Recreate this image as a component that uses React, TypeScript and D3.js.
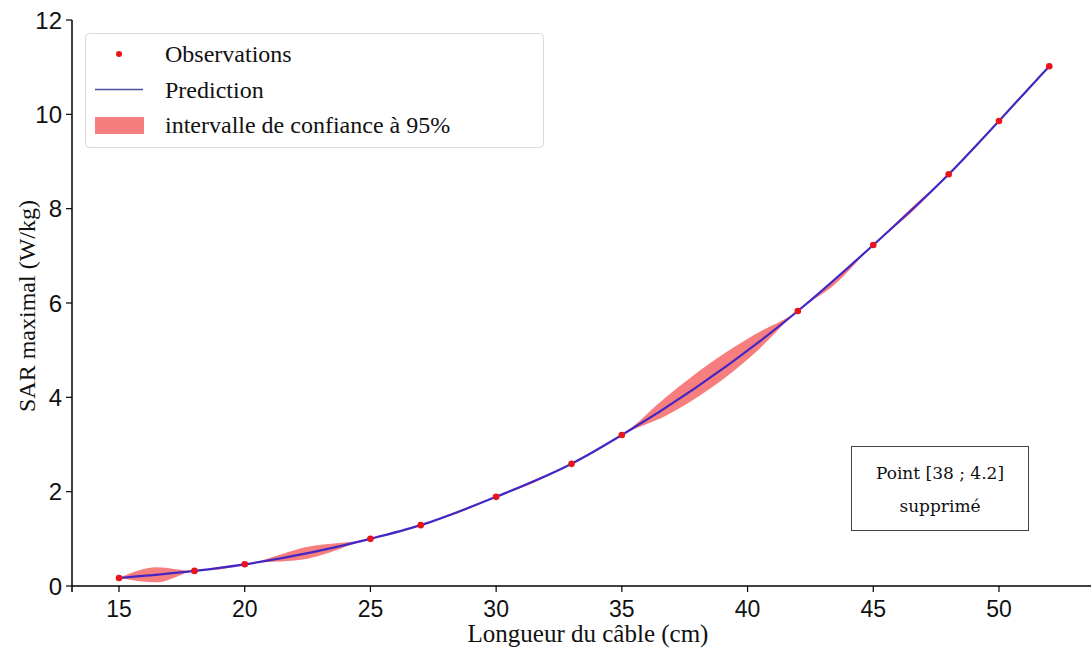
import React from "react";
import * as d3 from "d3";

// Observations (Longueur du câble en cm, SAR maximal en W/kg)
const obsX = [15, 18, 20, 25, 27, 30, 33, 35, 42, 45, 48, 50, 52];
const obsY = [0.17, 0.32, 0.46, 1.0, 1.29, 1.89, 2.59, 3.2, 5.83, 7.23, 8.73, 9.86, 11.02];

// 95% confidence band
const bandX = [15, 16.5, 18, 19, 20, 22.5, 25, 26, 27, 28.5, 30, 31.5, 33, 34, 35, 36.75, 38.5, 40.25, 42, 43.5, 45, 46.5, 48, 49, 50, 51, 52];
const bandLow = [0.17, 0.08, 0.32, 0.35, 0.46, 0.58, 1.0, 1.12, 1.29, 1.55, 1.89, 2.19, 2.59, 2.86, 3.2, 3.61, 4.18, 4.92, 5.83, 6.41, 7.23, 7.91, 8.73, 9.26, 9.86, 10.41, 11.02];
const bandHigh = [0.17, 0.4, 0.32, 0.41, 0.46, 0.83, 1.0, 1.15, 1.29, 1.59, 1.89, 2.24, 2.59, 2.9, 3.2, 4.0, 4.72, 5.32, 5.83, 6.53, 7.23, 8.01, 8.73, 9.31, 9.86, 10.46, 11.02];

const xTicks = [15, 20, 25, 30, 35, 40, 45, 50];
const yTicks = [0, 2, 4, 6, 8, 10, 12];

const legendLabels = ["Observations", "Prediction", "intervalle de confiance à 95%"];
const noteLines = ["Point [38 ; 4.2]", "supprimé"];

const W = 1091;
const H = 648;

export default function App() {
  const x = d3.scaleLinear().domain([13.13, 53.66]).range([72, 1091]);
  const y = d3.scaleLinear().domain([0, 12]).range([586, 20]);

  const obs = obsX.map((v, i) => [v, obsY[i]] as [number, number]);
  const band = bandX.map((v, i) => ({ x: v, lo: bandLow[i], hi: bandHigh[i] }));

  const linePath = d3
    .line<[number, number]>()
    .x((d) => x(d[0]))
    .y((d) => y(d[1]))
    .curve(d3.curveMonotoneX)(obs) as string;

  const areaPath = d3
    .area<{ x: number; lo: number; hi: number }>()
    .x((d) => x(d.x))
    .y0((d) => y(d.lo))
    .y1((d) => y(d.hi))
    .curve(d3.curveMonotoneX)(band) as string;

  const serif = "'Liberation Serif', 'Times New Roman', serif";
  const sans = "'Liberation Sans', Arial, sans-serif";
  const bandColor = "#f77e7e";
  const lineColor = "#4426c4";
  const dotColor = "#e8141a";

  return (
    <svg
      width={W}
      height={H}
      style={{ position: "absolute", left: 0, top: 0, background: "#fff" }}
    >
      {/* band */}
      <path d={areaPath} fill={bandColor} stroke="none" />
      {/* prediction */}
      <path d={linePath} fill="none" stroke={lineColor} strokeWidth={2.2} />
      {/* observations */}
      {obs.map((d, i) => (
        <circle key={i} cx={x(d[0])} cy={y(d[1])} r={3.3} fill={dotColor} />
      ))}

      {/* axes */}
      <line x1={x.range()[0]} x2={x.range()[1]} y1={y(0)} y2={y(0)} stroke="#000" strokeWidth={1.5} />
      <line x1={72} x2={72} y1={y(12)} y2={y(0) + 6} stroke="#000" strokeWidth={1.5} />
      {yTicks.map((t) => (
        <g key={t}>
          <line x1={66} x2={72} y1={y(t)} y2={y(t)} stroke="#000" strokeWidth={1.2} />
          <text
            x={62}
            y={y(t)}
            dy="0.36em"
            textAnchor="end"
            fontFamily={sans}
            fontSize={24}
            fill="#111"
          >
            {t}
          </text>
        </g>
      ))}
      {xTicks.map((t) => (
        <g key={t}>
          <line x1={x(t)} x2={x(t)} y1={y(0)} y2={y(0) + 6} stroke="#000" strokeWidth={1.2} />
          <text
            x={x(t)}
            y={617}
            textAnchor="middle"
            fontFamily={sans}
            fontSize={23}
            fill="#111"
          >
            {t}
          </text>
        </g>
      ))}

      {/* axis titles */}
      <text
        x={588}
        y={642}
        textAnchor="middle"
        fontFamily={serif}
        fontSize={25}
        fill="#111"
      >
        Longueur du câble (cm)
      </text>
      <text
        transform={`translate(35, 306) rotate(-90)`}
        textAnchor="middle"
        fontFamily={serif}
        fontSize={24}
        fill="#111"
      >
        SAR maximal (W/kg)
      </text>

      {/* legend */}
      <rect x={85.5} y={33.5} width={458} height={114} rx={4} fill="#fff" stroke="#d9d9d9" strokeWidth={1} />
      <circle cx={119} cy={54} r={3} fill={dotColor} />
      <line x1={95} x2={143} y1={89.5} y2={89.5} stroke="#4a50a0" strokeWidth={1.5} />
      <rect x={95} y={117} width={49} height={17} fill={bandColor} />
      {legendLabels.map((l, i) => (
        <text key={l} x={165} y={62 + i * 35.5} fontFamily={serif} fontSize={24} fill="#111">
          {l}
        </text>
      ))}

      {/* note box */}
      <rect x={851.5} y={446.5} width={177} height={84} fill="#fff" stroke="#444" strokeWidth={1} />
      {noteLines.map((l, i) => (
        <text
          key={l}
          x={940}
          y={479 + i * 33}
          textAnchor="middle"
          fontFamily="'DejaVu Serif', serif"
          fontSize={17}
          fill="#111"
        >
          {l}
        </text>
      ))}
    </svg>
  );
}
